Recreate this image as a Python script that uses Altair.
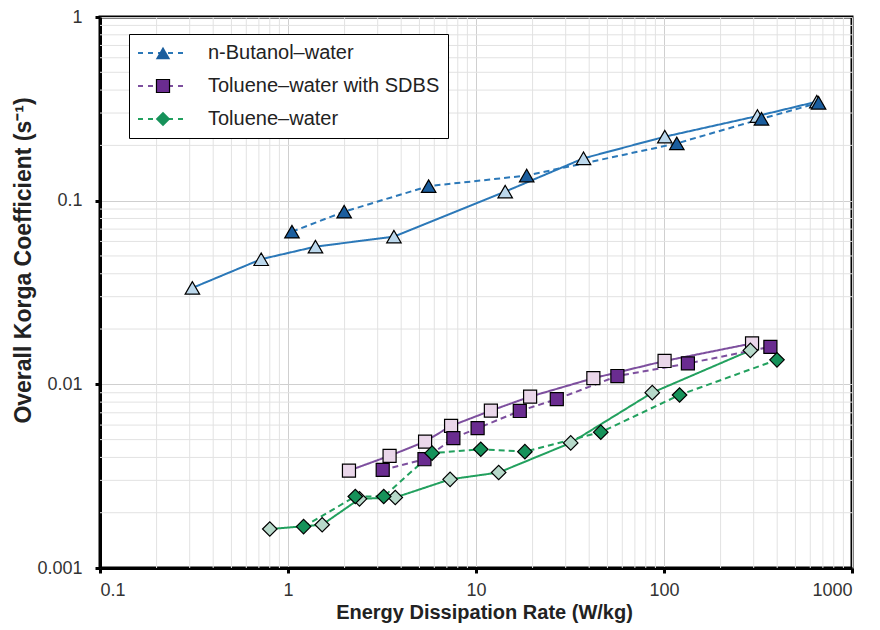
import altair as alt
import pandas as pd

series_names = ["n-Butanol–water", "Toluene–water with SDBS", "Toluene–water"]

# n-Butanol–water
but_solid_x = [0.31, 0.72, 1.40, 3.66, 14.3, 37.3, 101, 314, 650]
but_solid_y = [0.0335, 0.048, 0.0562, 0.0637, 0.112, 0.170, 0.223, 0.289, 0.346]
but_dash_x = [1.05, 1.99, 5.6, 18.6, 117, 330, 664]
but_dash_y = [0.0678, 0.0871, 0.120, 0.137, 0.205, 0.279, 0.341]

# Toluene–water with SDBS
sdbs_solid_x = [2.11, 3.47, 5.36, 7.37, 12.0, 19.4, 42.1, 100.7, 294]
sdbs_solid_y = [0.00339, 0.00408, 0.00488, 0.00594, 0.00719, 0.00857, 0.0108, 0.0134, 0.0167]
sdbs_dash_x = [3.19, 5.32, 7.58, 10.2, 17.1, 26.9, 56.5, 134, 368]
sdbs_dash_y = [0.00342, 0.00391, 0.00509, 0.00577, 0.00716, 0.00830, 0.0111, 0.0130, 0.0160]

# Toluene–water
tol_solid_x = [0.80, 1.52, 2.40, 3.72, 7.28, 13.2, 31.9, 86.6, 288]
tol_solid_y = [0.00163, 0.00172, 0.00238, 0.00242, 0.00304, 0.00331, 0.00480, 0.00901, 0.0153]
tol_dash_x = [1.21, 2.28, 3.23, 5.84, 10.6, 18.2, 46.1, 121, 399]
tol_dash_y = [0.00168, 0.00245, 0.00245, 0.00422, 0.00443, 0.00430, 0.00549, 0.00875, 0.0136]

x_ticks = [0.1, 1, 10, 100, 1000]
y_ticks = [0.001, 0.01, 0.1, 1]
x_minor = [m * d for d in [0.1, 1, 10, 100] for m in range(2, 10)]
y_minor = [m * d for d in [0.001, 0.01, 0.1] for m in range(2, 10)]

line_colors = ["#2b78b8", "#7d4f9e", "#22a05e"]
light_fills = ["#bcd8ec", "#ead7ea", "#b7d9ca"]
dark_fills = ["#1b5e9e", "#6a2c90", "#16925a"]
shapes = ["triangle-up", "square", "diamond"]
msizes = [210, 170, 210]

rows = []
sets = [
    (series_names[0], but_solid_x, but_solid_y, but_dash_x, but_dash_y),
    (series_names[1], sdbs_solid_x, sdbs_solid_y, sdbs_dash_x, sdbs_dash_y),
    (series_names[2], tol_solid_x, tol_solid_y, tol_dash_x, tol_dash_y),
]
for name, sx, sy, dx, dy in sets:
    for a, b in zip(sx, sy):
        rows.append({"x": a, "y": b, "series": name, "variant": "solid", "key": name + "|solid"})
for name, sx, sy, dx, dy in sets:
    for a, b in zip(dx, dy):
        rows.append({"x": a, "y": b, "series": name, "variant": "dashed", "key": name + "|dashed"})
df = pd.DataFrame(rows)

FONT = "Liberation Sans"

xs = alt.Scale(type="log", domain=[0.1, 1000], nice=False)
ys = alt.Scale(type="log", domain=[0.001, 1], nice=False)

xaxis = alt.Axis(values=x_ticks, format="~g", title="Energy Dissipation Rate (W/kg)",
                 grid=True, gridColor="#cfcfcf", gridWidth=1,
                 labelFontSize=18, labelColor="#333", labelPadding=8,
                 tickSize=5, tickWidth=3, tickColor="black",
                 domainColor="black", domainWidth=3,
                 titleFontSize=20, titleFontWeight="bold", titleColor="#222",
                 titleX=384, titleY=50, titleBaseline="alphabetic", titleAlign="center")
yaxis = alt.Axis(values=y_ticks, format="~g", title="Overall Korga Coefficient (s⁻¹)",
                 grid=True, gridColor="#cfcfcf", gridWidth=1,
                 labelFontSize=18, labelColor="#333", labelPadding=13,
                 tickSize=5, tickWidth=3, tickColor="black",
                 domainColor="black", domainWidth=3,
                 titleFontSize=23, titleFontWeight="bold", titleColor="#222",
                 titleX=-77, titleY=243, titleAngle=270, titleBaseline="middle", titleAlign="center")

xenc = alt.X("x:Q", scale=xs, axis=xaxis)
yenc = alt.Y("y:Q", scale=ys, axis=yaxis)

grid_x = alt.Chart(pd.DataFrame({"x": x_minor})).mark_rule(color="#e2e2e2", strokeWidth=1).encode(x=xenc)
grid_y = alt.Chart(pd.DataFrame({"y": y_minor})).mark_rule(color="#e2e2e2", strokeWidth=1).encode(y=yenc)

legA = alt.Legend(orient="none", legendX=29, legendY=17, title=None,
                  symbolType="stroke", symbolSize=2500, symbolStrokeWidth=2, symbolDash=[5, 5],
                  clipHeight=22, rowPadding=11, padding=8,
                  labelFont=FONT, labelFontSize=20, labelColor="#222", labelOffset=19, labelLimit=400,
                  strokeColor="black", fillColor="white", zindex=0)

lines = alt.Chart(df).mark_line(strokeWidth=2).encode(
    x=xenc, y=yenc,
    color=alt.Color("series:N", scale=alt.Scale(domain=series_names, range=line_colors), legend=legA),
    strokeDash=alt.StrokeDash("variant:N", scale=alt.Scale(domain=["solid", "dashed"], range=[[1, 0], [6, 4]]), legend=None),
    detail="key:N",
)

light_layers = []
for i, name in enumerate(series_names):
    sub = df[(df["series"] == name) & (df["variant"] == "solid")]
    light_layers.append(
        alt.Chart(sub).mark_point(shape=shapes[i], filled=True, fill=light_fills[i], stroke="black",
                                  strokeWidth=1.2, size=msizes[i], opacity=1).encode(x=xenc, y=yenc)
    )


def marker_legend(i):
    return alt.Legend(orient="none", legendX=45, legendY=17 + 33 * i, title=None,
                      symbolType=shapes[i], symbolFillColor=dark_fills[i], symbolStrokeColor="black",
                      symbolStrokeWidth=1.2, symbolSize=msizes[i], symbolOpacity=1,
                      clipHeight=22, rowPadding=11, padding=8,
                      labelFont=FONT, labelFontSize=20, labelExpr="''", zindex=1)


dark_layers = []
for i, name in enumerate(series_names):
    sub = df[(df["series"] == name) & (df["variant"] == "dashed")]
    if i == 0:
        base = alt.Chart(sub).mark_point(shape=shapes[i], filled=True, fill=dark_fills[i], stroke="black",
                                         strokeWidth=1.2, size=msizes[i], opacity=1)
        enc = dict(opacity=alt.Opacity("series:N", scale=alt.Scale(domain=[name], range=[1]),
                                       legend=marker_legend(i)))
    elif i == 1:
        base = alt.Chart(sub).mark_point(shape=shapes[i], filled=True, stroke="black",
                                         strokeWidth=1.2, size=msizes[i], opacity=1)
        enc = dict(fill=alt.Fill("series:N", scale=alt.Scale(domain=[name], range=[dark_fills[i]]),
                                 legend=marker_legend(i)))
    else:
        base = alt.Chart(sub).mark_point(filled=True, fill=dark_fills[i], stroke="black",
                                         strokeWidth=1.2, size=msizes[i], opacity=1)
        enc = dict(shape=alt.Shape("series:N", scale=alt.Scale(domain=[name], range=[shapes[i]]),
                                   legend=marker_legend(i)))
    dark_layers.append(base.encode(x=xenc, y=yenc, **enc))

chart = alt.layer(grid_x, grid_y, lines, *light_layers, *dark_layers).properties(
    width=752, height=551,
    autosize=alt.AutoSizeParams(type="none"),
    padding={"left": 100, "top": 17, "right": 28, "bottom": 62},
).configure_view(stroke="black", strokeWidth=3).configure_axis(
    labelFont=FONT, titleFont=FONT
).configure_legend(labelFont=FONT)

chart.save("out.html", embed_options={"renderer": "svg", "actions": False})
